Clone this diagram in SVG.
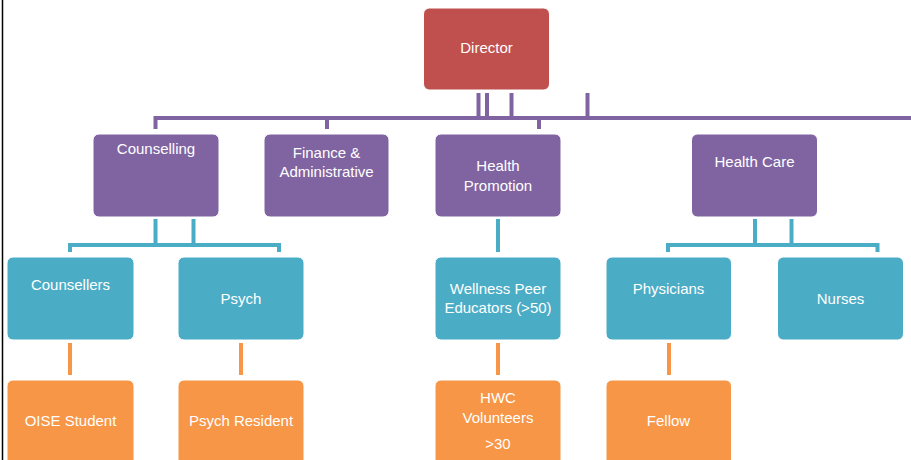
<svg xmlns="http://www.w3.org/2000/svg" width="911" height="460" viewBox="0 0 911 460">
<style>
.box{stroke:#ffffff;stroke-width:1}
.dir{fill:#C0504D}
.pur{fill:#8064A2}
.teal{fill:#4BACC6}
.org{fill:#F79646}
text{font-family:"Liberation Sans",Arial,sans-serif;font-size:15px;fill:#ffffff;text-anchor:middle}
.cp{stroke:#8064A2;stroke-width:4;fill:none}
.ct{stroke:#4BACC6;stroke-width:4;fill:none}
.co{stroke:#F79646;stroke-width:4;fill:none}
</style>
<rect width="911" height="460" fill="#ffffff"/>
<line x1="2.5" y1="0" x2="2.5" y2="460" stroke="#000000" stroke-width="1.5"/>
<g id="connectors">
<line class="cp" x1="478.5" y1="93" x2="478.5" y2="118"/>
<line class="cp" x1="487" y1="93" x2="487" y2="118"/>
<line class="cp" x1="511.5" y1="93" x2="511.5" y2="118"/>
<line class="cp" x1="587.5" y1="93" x2="587.5" y2="118"/>
<path class="cp" d="M155.5 129 V118 H911"/>
<line class="cp" x1="327" y1="118" x2="327" y2="129"/>
<line class="cp" x1="539" y1="118" x2="539" y2="129"/>
<line class="ct" x1="155.5" y1="219" x2="155.5" y2="245"/>
<line class="ct" x1="193.5" y1="219" x2="193.5" y2="245"/>
<path class="ct" d="M70 252 V245 H279 V252"/>
<line class="ct" x1="498" y1="219" x2="498" y2="252"/>
<line class="ct" x1="755" y1="219" x2="755" y2="245"/>
<line class="ct" x1="791.5" y1="219" x2="791.5" y2="245"/>
<path class="ct" d="M668 252 V245 H877.5 V252"/>
<line class="co" x1="70" y1="343" x2="70" y2="375"/>
<line class="co" x1="241" y1="343" x2="241" y2="375"/>
<line class="co" x1="498" y1="343" x2="498" y2="375"/>
<line class="co" x1="669" y1="343" x2="669" y2="375"/>
</g>
<g id="director"><rect class="box dir" x="423.5" y="8" width="126" height="82" rx="6"/><text x="486.5" y="53">Director</text></g>
<g id="counselling"><rect class="box pur" x="93" y="134" width="126" height="83" rx="6"/><text x="156" y="154">Counselling</text></g>
<g id="finance"><rect class="box pur" x="264" y="134" width="125" height="83" rx="6"/><text x="326.5" y="158">Finance &amp;</text><text x="326.5" y="177">Administrative</text></g>
<g id="health-promotion"><rect class="box pur" x="435" y="134" width="126" height="83" rx="6"/><text x="498" y="171">Health</text><text x="498" y="191">Promotion</text></g>
<g id="health-care"><rect class="box pur" x="691.5" y="134" width="126" height="83" rx="6"/><text x="754.5" y="167">Health Care</text></g>
<g id="counsellers"><rect class="box teal" x="7" y="257" width="127" height="83" rx="6"/><text x="70.5" y="290">Counsellers</text></g>
<g id="psych"><rect class="box teal" x="178" y="257" width="126" height="83" rx="6"/><text x="241" y="304">Psych</text></g>
<g id="wellness"><rect class="box teal" x="435" y="257" width="126" height="83" rx="6"/><text x="498" y="294">Wellness Peer</text><text x="498" y="313">Educators (&gt;50)</text></g>
<g id="physicians"><rect class="box teal" x="606" y="257" width="125.5" height="83" rx="6"/><text x="668.5" y="294">Physicians</text></g>
<g id="nurses"><rect class="box teal" x="777.5" y="257" width="126" height="83" rx="6"/><text x="840.5" y="304">Nurses</text></g>
<g id="oise"><rect class="box org" x="7" y="380" width="127" height="90" rx="6"/><text x="70.5" y="426">OISE Student</text></g>
<g id="psych-resident"><rect class="box org" x="178" y="380" width="126" height="90" rx="6"/><text x="241" y="426">Psych Resident</text></g>
<g id="hwc"><rect class="box org" x="435" y="380" width="126" height="90" rx="6"/><text x="498" y="403">HWC</text><text x="498" y="423">Volunteers</text><text x="498" y="449">&gt;30</text></g>
<g id="fellow"><rect class="box org" x="606" y="380" width="125.5" height="90" rx="6"/><text x="668.5" y="426">Fellow</text></g>
</svg>
